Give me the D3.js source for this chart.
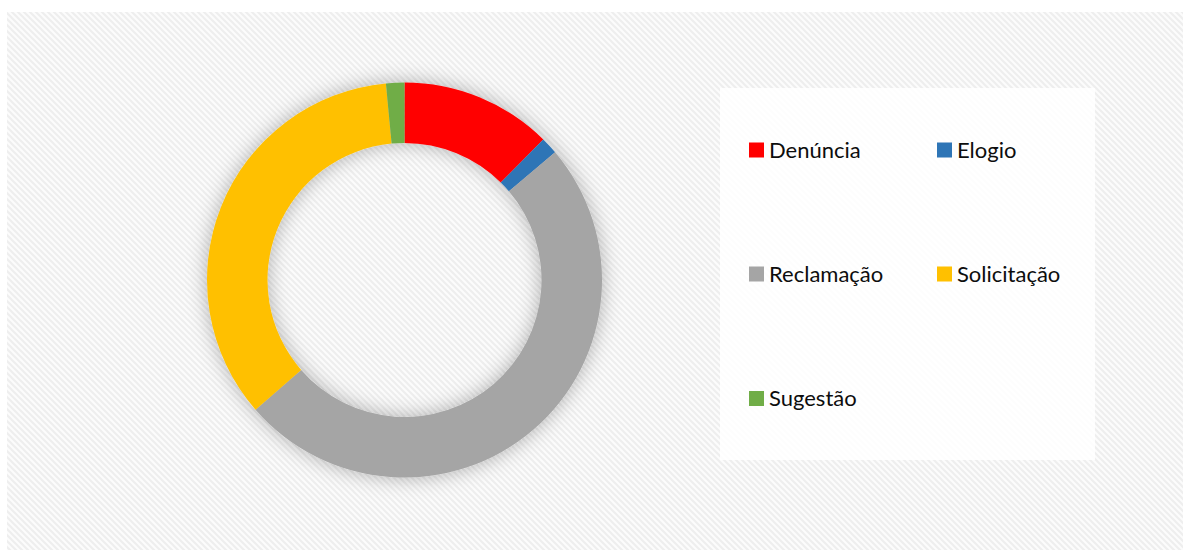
<!DOCTYPE html>
<html><head><meta charset="utf-8">
<script src="https://cdn.jsdelivr.net/npm/d3@7"></script>
<style>html,body{margin:0;padding:0;background:#fff;}</style>
</head><body>
<script>
const categories = ["Denúncia","Elogio","Reclamação","Solicitação","Sugestão"];
const values = [12.4, 1.4, 49.8, 34.9, 1.5];
const colors = ["#FF0000","#2E75B6","#A5A5A5","#FFC000","#70AD47"];

const W = 1193, H = 550;
const svg = d3.select("body").append("svg").attr("width", W).attr("height", H);
const defs = svg.append("defs");
const pat = defs.append("pattern").attr("id","hatch").attr("patternUnits","userSpaceOnUse")
  .attr("width",6).attr("height",6);
pat.append("rect").attr("width",6).attr("height",6).attr("fill","#fcfcfc");
pat.append("path").attr("d","M-1,-1 L7,7 M-4,2 L4,10 M2,-4 L10,4").attr("stroke","#eeeeee").attr("stroke-width",2);
const f = defs.append("filter").attr("id","shadow").attr("x","-25%").attr("y","-25%").attr("width","150%").attr("height","150%");
f.append("feGaussianBlur").attr("in","SourceAlpha").attr("stdDeviation",10).attr("result","b");
f.append("feFlood").attr("flood-color","#000").attr("flood-opacity",0.3);
f.append("feComposite").attr("in2","b").attr("operator","in").attr("result","s");
const m = f.append("feMerge");
m.append("feMergeNode").attr("in","s");
m.append("feMergeNode").attr("in","SourceGraphic");

svg.append("rect").attr("x",7).attr("y",12).attr("width",1176).attr("height",538).attr("fill","url(#hatch)");

const cx = 404.5, cy = 280, rOut = 197.5, rIn = 137;
const pie = d3.pie().sort(null).value(d => d.v);
const arc = d3.arc().innerRadius(rIn).outerRadius(rOut);
const data = categories.map((c,i)=>({c, v: values[i], col: colors[i]}));
const g = svg.append("g").attr("transform",`translate(${cx},${cy})`).attr("filter","url(#shadow)");
g.selectAll("path").data(pie(data)).join("path").attr("d",arc).attr("fill",d=>d.data.col);

// legend
svg.append("rect").attr("x",720).attr("y",88).attr("width",375).attr("height",372).attr("fill","#fff").attr("fill-opacity",0.85);
const colX = [749, 937], rowY = [150, 274, 398.5];
const lg = svg.append("g");
data.forEach((d,i)=>{
  const x = colX[i%2], y = rowY[Math.floor(i/2)];
  lg.append("rect").attr("x",x).attr("y",y-7.5).attr("width",15).attr("height",15).attr("fill",d.col);
  lg.append("text").attr("x",x+20).attr("y",y).attr("dy","0.35em")
    .attr("font-family","Lato, 'Open Sans', sans-serif").attr("font-size",22).attr("fill","#0d0d0d").text(d.c);
});
</script>
</body></html>
